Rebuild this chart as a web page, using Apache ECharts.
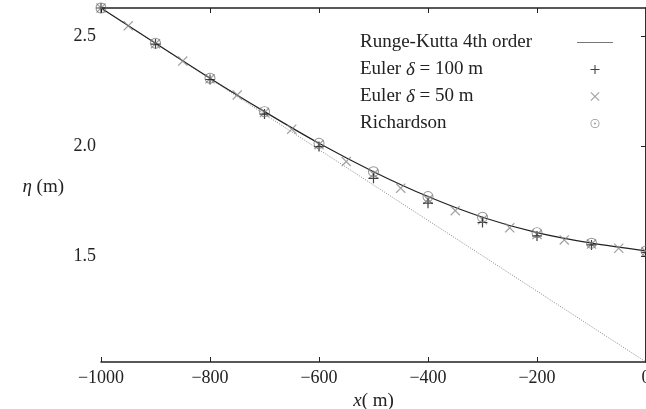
<!DOCTYPE html>
<html>
<head>
<meta charset="utf-8">
<script src="https://cdn.jsdelivr.net/npm/echarts@6/dist/echarts.min.js"></script>
<style>html,body{margin:0;padding:0;background:#fff}#c{width:646px;height:409px}</style>
</head>
<body>
<div id="c"></div>
<script>
var xs = [-1000, -900, -800, -700, -600, -500, -400, -300, -200, -100, 0];
var rk4 = [2.630, 2.470, 2.311, 2.159, 2.015, 1.886, 1.773, 1.679, 1.609, 1.561, 1.526];
var euler100 = [2.630, 2.466, 2.305, 2.148, 2.000, 1.856, 1.743, 1.655, 1.594, 1.553, 1.519];
var xs50 = [-1000, -950, -900, -850, -800, -750, -700, -650, -600, -550, -500, -450, -400, -350, -300, -250, -200, -150, -100, -50, 0];
var euler50 = [2.630, 2.549, 2.468, 2.389, 2.308, 2.235, 2.155, 2.079, 2.009, 1.932, 1.875, 1.811, 1.760, 1.709, 1.668, 1.631, 1.601, 1.576, 1.557, 1.538, 1.522];
var richardson = [2.630, 2.470, 2.311, 2.159, 2.015, 1.886, 1.773, 1.679, 1.609, 1.561, 1.526];
var tangentX = [-1000, 0];
var tangentY = [2.630, 1.021];
var yTicks = [1.5, 2.0, 2.5];

function pairs(a, b) { return a.map(function (v, i) { return [v, b[i]]; }); }

var FONT = 'Liberation Serif';
var PLUS = 'path://M-0.6,-5L0.6,-5L0.6,-0.6L5,-0.6L5,0.6L0.6,0.6L0.6,5L-0.6,5L-0.6,0.6L-5,0.6L-5,-0.6L-0.6,-0.6Z';
var CROSS = 'path://M-4.6,-3.8L-3.8,-4.6L0,-0.8L3.8,-4.6L4.6,-3.8L0.8,0L4.6,3.8L3.8,4.6L0,0.8L-3.8,4.6L-4.6,3.8L-0.8,0Z';
var ODOT = 'path://M0,-5A5,5 0 1,1 0,5A5,5 0 1,1 0,-5ZM0,-4.1A4.1,4.1 0 1,0 0,4.1A4.1,4.1 0 1,0 0,-4.1ZM0,-1A1,1 0 1,1 0,1A1,1 0 1,1 0,-1Z';

var LF = 19;
var legendRich = {
  a: { fontFamily: FONT, fontSize: LF, color: '#222', align: 'left' },
  i: { fontFamily: FONT, fontStyle: 'italic', fontSize: LF, color: '#222', align: 'left' }
};

var axisLine = { show: true, lineStyle: { color: '#222', width: 1.5 } };
var chart = echarts.init(document.getElementById('c'));
chart.setOption({
  animation: false,
  backgroundColor: '#fff',
  grid: { left: 101, right: 0, top: 8, bottom: 47, containLabel: false, outerBoundsMode: 'none' },
  legend: {
    orient: 'vertical', left: 355, top: 28, align: 'right',
    itemWidth: 36, itemHeight: 9, itemGap: 8,
    textStyle: { fontFamily: FONT, fontSize: LF, color: '#222', width: 212, rich: legendRich },
    formatter: function (n) {
      if (n === 'Euler100') return '{a|Euler }{i|δ}{a| = 100 m}';
      if (n === 'Euler50') return '{a|Euler }{i|δ}{a| = 50 m}';
      if (n === 'RK4') return '{a|Runge-Kutta 4th order}';
      return '{a|' + n + '}';
    },
    data: [
      { name: 'RK4', icon: 'path://M0,0L36,0L36,1.2L0,1.2Z', itemStyle: { color: '#777' } },
      { name: 'Euler100', icon: PLUS, itemStyle: { color: '#111' } },
      { name: 'Euler50', icon: CROSS, itemStyle: { color: '#888' } },
      { name: 'Richardson', icon: ODOT, itemStyle: { color: '#777' } }
    ]
  },
  xAxis: [{
    type: 'value', min: -1000, max: 0, interval: 200, position: 'bottom',
    name: '{i|x}( m)', nameLocation: 'middle', nameGap: 25,
    nameTextStyle: { fontFamily: FONT, fontSize: LF, color: '#222',
      rich: { i: { fontFamily: FONT, fontStyle: 'italic', fontSize: LF, color: '#222' } } },
    axisLine: axisLine,
    axisTick: { show: true, inside: true, length: 5, lineStyle: { color: '#222', width: 1 } },
    axisLabel: { fontFamily: FONT, fontSize: 18, color: '#222', margin: 7,
      formatter: function (v) { return v < 0 ? '\u2212' + Math.abs(v) : String(v); } },
    splitLine: { show: false }
  }, {
    type: 'value', min: -1000, max: 0, interval: 200, position: 'top',
    axisLine: axisLine,
    axisTick: { show: true, inside: true, length: 5, lineStyle: { color: '#222', width: 1 } },
    axisLabel: { show: false }, splitLine: { show: false }
  }],
  yAxis: [{
    type: 'value', min: 1.021, max: 2.630, position: 'left',
    name: '{i|η} (m)', nameLocation: 'middle', nameGap: 37, nameRotate: 0,
    nameTextStyle: { fontFamily: FONT, fontSize: LF, color: '#222', align: 'right', padding: [4, 0, 0, 0],
      rich: { i: { fontFamily: FONT, fontStyle: 'italic', fontSize: LF, color: '#222' } } },
    axisLine: axisLine,
    axisTick: { show: true, inside: true, length: 5, customValues: yTicks, lineStyle: { color: '#222', width: 1 } },
    axisLabel: { fontFamily: FONT, fontSize: 18, color: '#222', margin: 5, customValues: yTicks,
      formatter: function (v) { return v.toFixed(1); } },
    splitLine: { show: false }
  }, {
    type: 'value', min: 1.021, max: 2.630, position: 'right',
    axisLine: axisLine,
    axisTick: { show: true, inside: true, length: 5, customValues: yTicks, lineStyle: { color: '#222', width: 1 } },
    axisLabel: { show: false }, splitLine: { show: false }
  }],
  series: [
    { name: 'tangent', type: 'line', data: pairs(tangentX, tangentY), symbol: 'none',
      lineStyle: { color: '#666', width: 0.8, type: [1, 1.5] }, silent: true },
    { name: 'RK4', type: 'line', data: pairs(xs, rk4), symbol: 'none', smooth: 0.3,
      lineStyle: { color: '#222', width: 1.2 }, itemStyle: { color: '#777' } },
    { name: 'Euler100', type: 'scatter', data: pairs(xs, euler100), symbol: PLUS, symbolSize: 10,
      itemStyle: { color: '#111' }, z: 4 },
    { name: 'Euler50', type: 'scatter', data: pairs(xs50, euler50), symbol: CROSS, symbolSize: 10,
      itemStyle: { color: '#888' }, z: 3 },
    { name: 'Richardson', type: 'scatter', data: pairs(xs, richardson), symbol: ODOT, symbolSize: 11,
      itemStyle: { color: '#777' }, z: 5 }
  ]
});
</script>
</body>
</html>
